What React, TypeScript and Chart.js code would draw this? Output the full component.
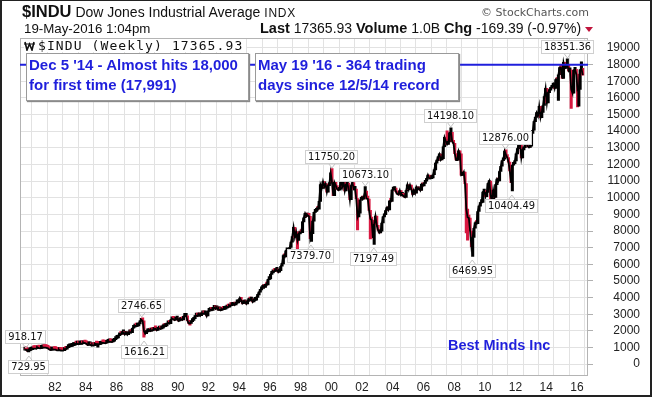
import React, { useEffect, useRef } from "react";
import { Chart, registerables } from "chart.js";

Chart.register(...registerables);

// ---------- DATA ----------
const FIRST_YEAR = 1980;
const DEC_1979_CLOSE = 839;

// Monthly closes (Jan 1980 .. Dec 1989)
const closes1980s = [
  876, 863, 786, 817, 851, 868, 935, 933, 932, 925, 993, 964,
  947, 975, 1004, 998, 992, 977, 952, 882, 850, 853, 889, 875,
  871, 824, 823, 848, 820, 812, 809, 901, 896, 992, 1039, 1047,
  1076, 1113, 1130, 1226, 1200, 1222, 1199, 1216, 1233, 1225, 1276, 1259,
  1220, 1155, 1165, 1171, 1105, 1132, 1115, 1224, 1207, 1207, 1189, 1212,
  1287, 1284, 1267, 1258, 1316, 1336, 1348, 1334, 1329, 1375, 1472, 1547,
  1571, 1709, 1819, 1784, 1877, 1893, 1775, 1898, 1768, 1878, 1914, 1896,
  2158, 2224, 2305, 2286, 2292, 2419, 2572, 2663, 2596, 1994, 1834, 1939,
  1958, 2072, 1988, 2032, 2031, 2142, 2129, 2032, 2113, 2149, 2115, 2169,
  2342, 2258, 2294, 2419, 2480, 2440, 2661, 2737, 2693, 2645, 2706, 2753,
];

const closes1990s = [
  2591, 2627, 2707, 2657, 2877, 2881, 2905, 2614, 2453, 2442, 2560, 2634,
  2736, 2882, 2914, 2888, 3028, 2907, 3025, 3044, 3017, 3069, 2895, 3169,
  3224, 3268, 3236, 3359, 3397, 3319, 3394, 3257, 3272, 3226, 3305, 3301,
  3310, 3371, 3435, 3428, 3527, 3516, 3540, 3651, 3555, 3681, 3684, 3754,
  3978, 3832, 3636, 3682, 3758, 3625, 3765, 3913, 3843, 3908, 3739, 3834,
  3844, 4011, 4158, 4321, 4465, 4556, 4709, 4611, 4789, 4756, 5075, 5117,
  5395, 5486, 5588, 5569, 5643, 5655, 5529, 5616, 5882, 6029, 6522, 6448,
  6813, 6877, 6584, 7009, 7331, 7673, 8223, 7622, 7945, 7442, 7823, 7908,
  7907, 8546, 8800, 9063, 8900, 8952, 8883, 7539, 7843, 8592, 9117, 9181,
  9359, 9307, 9786, 10789, 10560, 10971, 10655, 10829, 10337, 10730, 10878, 11497,
];

const closes2000s = [
  10941, 10128, 10922, 10734, 10522, 10448, 10522, 11215, 10651, 10971, 10415, 10788,
  10887, 10495, 9879, 10735, 10912, 10502, 10523, 9950, 8848, 9075, 9852, 10022,
  9920, 10106, 10404, 9946, 9925, 9243, 8737, 8664, 7592, 8397, 8896, 8342,
  8054, 7891, 7992, 8480, 8850, 8985, 9234, 9416, 9275, 9801, 9782, 10454,
  10488, 10584, 10358, 10226, 10188, 10435, 10140, 10174, 10080, 10027, 10428, 10783,
  10490, 10766, 10504, 10193, 10467, 10275, 10641, 10482, 10569, 10440, 10806, 10718,
  10865, 10993, 11109, 11367, 11168, 11150, 11186, 11381, 11679, 12081, 12222, 12463,
  12622, 12269, 12354, 13063, 13628, 13409, 13212, 13358, 13896, 13930, 13372, 13265,
  12650, 12266, 12263, 12820, 12638, 11350, 11378, 11544, 10851, 9325, 8829, 8776,
  8001, 7063, 7609, 8168, 8500, 8447, 9172, 9496, 9712, 9713, 10345, 10428,
];

const closes2010s = [
  10067, 10325, 10857, 11009, 10137, 9774, 10466, 10015, 10788, 11118, 11006, 11578,
  11892, 12226, 12320, 12811, 12570, 12414, 12143, 11614, 10913, 11955, 12046, 12218,
  12633, 12952, 13212, 13214, 12393, 12880, 13009, 13091, 13437, 13096, 13026, 13104,
  13861, 14054, 14579, 14840, 15116, 14910, 15500, 14810, 15130, 15546, 16086, 16577,
  15699, 16322, 16458, 16581, 16717, 16827, 16563, 17098, 17043, 17391, 17828, 17823,
  17165, 18133, 17776, 17841, 18011, 17620, 17690, 16528, 16285, 17664, 17720, 17425,
  16466, 16517, 17685, 17774, 17366,
];

// Labelled intraweek extremes
const labelDates = [1980.1, 1980.3, 1987.65, 1987.8, 1998.67, 2000.04, 2002.21, 2002.77, 2007.78, 2009.18, 2011.34, 2011.76, 2015.38];
const labelValues = [918.17, 729.95, 2746.65, 1616.21, 7379.7, 11750.2, 10673.1, 7197.49, 14198.1, 6469.95, 12876.0, 10404.49, 18351.36];
const labelKinds = ["high", "low", "high", "low", "low", "high", "high", "low", "high", "low", "high", "low", "high"];

// Other visible intramonth swings
const swingDates = [1990.79, 1997.82, 2001.72, 2002.55, 2007.54, 2008.79, 2008.89, 2010.37, 2010.51, 2014.79, 2015.64, 2016.05, 2016.13, 2016.3];
const swingValues = [2344, 6936, 8062, 7532, 14022, 7882, 7449, 9870, 9614, 15855, 15370, 15451, 15503, 18168];

const RECORD_VALUE = 17991;

const xTickYears = [
  1980, 1981, 1982, 1983, 1984, 1985, 1986, 1987, 1988, 1989, 1990, 1991, 1992,
  1993, 1994, 1995, 1996, 1997, 1998, 1999, 2000, 2001, 2002, 2003, 2004, 2005,
  2006, 2007, 2008, 2009, 2010, 2011, 2012, 2013, 2014, 2015, 2016,
];
const yTickValues = [
  0, 1000, 2000, 3000, 4000, 5000, 6000, 7000, 8000, 9000, 10000, 11000, 12000,
  13000, 14000, 15000, 16000, 17000, 18000, 19000,
];

const X_MIN = 1979.72;
const X_MAX = 2016.72;
const Y_MIN = -700;
const Y_MAX = 19600;

// ---------- STYLE ----------
const UP_COLOR = "#000000";
const DOWN_COLOR = "#d81840";
const GRID = "#e2e2e2";
const BLUE = "#1f1fdc";

function allCloses() {
  return [...closes1980s, ...closes1990s, ...closes2000s, ...closes2010s];
}

function buildBars() {
  const closes = allCloses();
  const bars = closes.map((c, i) => {
    const prev = i === 0 ? DEC_1979_CLOSE : closes[i - 1];
    return {
      x: FIRST_YEAR + (i + 0.5) / 12,
      y: [Math.min(prev, c), Math.max(prev, c)] as [number, number],
      up: c >= prev,
    };
  });
  const dates = [...labelDates, ...swingDates];
  const vals = [...labelValues, ...swingValues];
  dates.forEach((d, k) => {
    const i = Math.floor((d - FIRST_YEAR) * 12);
    if (bars[i]) {
      bars[i].y = [Math.min(bars[i].y[0], vals[k]), Math.max(bars[i].y[1], vals[k])];
    }
  });
  return bars;
}

const framePlugin = {
  id: "frame",
  beforeDatasetsDraw(chart: any) {
    const { ctx, chartArea: a } = chart;
    ctx.save();
    ctx.strokeStyle = "#b4b4b4";
    ctx.lineWidth = 1;
    ctx.strokeRect(Math.round(a.left) + 0.5, Math.round(a.top) + 0.5, Math.round(a.right - a.left) - 1, Math.round(a.bottom - a.top) - 1);
    ctx.restore();
  },
};

const labelPlugin = {
  id: "extremeLabels",
  afterDatasetsDraw(chart: any) {
    const { ctx } = chart;
    const xs = chart.scales.x;
    const ys = chart.scales.y;
    ctx.save();
    ctx.font = '11px "DejaVu Sans Condensed", "DejaVu Sans", sans-serif';
    ctx.textAlign = "center";
    ctx.textBaseline = "middle";
    labelDates.forEach((d, i) => {
      const v = labelValues[i];
      const px = xs.getPixelForValue(d);
      const py = ys.getPixelForValue(v);
      const text = v.toFixed(2);
      const w = Math.round(ctx.measureText(text).width + 6);
      const h = 14;
      const high = labelKinds[i] === "high";
      const cy = high ? py - 12 : py + 15;
      let left = Math.round(px - w / 2);
      if (left < 4) left = 4;
      const top = Math.round(cy - h / 2);
      ctx.strokeStyle = "#c4c4c4";
      ctx.lineWidth = 1;
      ctx.beginPath();
      if (high) {
        ctx.moveTo(px - 3, top + h);
        ctx.lineTo(px, top + h + 4);
        ctx.lineTo(px + 3, top + h);
      } else {
        ctx.moveTo(px - 3, top);
        ctx.lineTo(px, top - 4);
        ctx.lineTo(px + 3, top);
      }
      ctx.stroke();
      ctx.fillStyle = "#ffffff";
      ctx.fillRect(left, top, w, h);
      ctx.strokeStyle = "#cfcfcf";
      ctx.strokeRect(left + 0.5, top + 0.5, w - 1, h - 1);
      ctx.fillStyle = "#111111";
      ctx.fillText(text, left + w / 2, top + h / 2 + 0.5);
    });
    ctx.restore();
  },
};

export default function App() {
  const ref = useRef<HTMLCanvasElement>(null);

  useEffect(() => {
    if (!ref.current) return;
    const bars = buildBars();
    const closes = allCloses();
    Chart.defaults.font.family = '"Liberation Sans", Arial, sans-serif';
    const chart = new Chart(ref.current, {
      type: "bar",
      data: {
        datasets: [
          {
            type: "line",
            data: [
              { x: X_MIN, y: RECORD_VALUE },
              { x: X_MAX, y: RECORD_VALUE },
            ],
            borderColor: BLUE,
            borderWidth: 2,
            pointRadius: 0,
            order: 0,
          } as any,
          {
            type: "line",
            data: closes.map((c, i) => ({ x: FIRST_YEAR + (i + 0.5) / 12, y: c })),
            borderColor: "#000",
            borderWidth: 1.8,
            pointRadius: 0,
            tension: 0,
            order: 1,
          } as any,
          {
            type: "bar",
            data: bars.map((b) => ({ x: b.x, y: b.y })),
            backgroundColor: bars.map((b) => (b.up ? UP_COLOR : DOWN_COLOR)),
            borderWidth: 0,
            barThickness: 2.4,
            minBarLength: 3,
            order: 2,
          } as any,
        ],
      },
      options: {
        animation: false,
        responsive: false,
        events: [],
        layout: { padding: { left: 20, top: 38, right: 12, bottom: 0 } },
        plugins: {
          legend: { display: false },
          tooltip: { enabled: false },
          title: { display: false },
        },
        scales: {
          x: {
            type: "linear",
            min: X_MIN,
            max: X_MAX,
            offset: false,
            afterBuildTicks: (scale: any) => {
              scale.ticks = xTickYears.map((v) => ({ value: v }));
            },
            afterFit: (scale: any) => {
              scale.height = 19;
            },
            ticks: {
              autoSkip: false,
              maxRotation: 0,
              padding: 5,
              color: "#222",
              font: { size: 12 },
              callback: (value: any) => {
                const yr = Math.round(Number(value));
                if (yr % 2 !== 0 || yr < 1982) return "";
                return String(yr % 100).padStart(2, "0");
              },
            },
            grid: { color: GRID, drawTicks: false },
            border: { display: false },
          },
          y: {
            type: "linear",
            position: "right",
            min: Y_MIN,
            max: Y_MAX,
            afterBuildTicks: (scale: any) => {
              scale.ticks = yTickValues.map((v) => ({ value: v }));
            },
            afterFit: (scale: any) => {
              scale.width = 52;
            },
            ticks: {
              crossAlign: "far",
              padding: 14,
              color: "#222",
              font: { size: 12 },
              callback: (value: any) => String(value),
            },
            grid: { color: GRID, tickLength: 5, tickColor: "#b0b0b0" },
            border: { display: false },
          },
        },
      } as any,
      plugins: [framePlugin, labelPlugin],
    });
    return () => chart.destroy();
  }, []);

  const arial = '"Liberation Sans", Arial, sans-serif';
  const boxStyle: React.CSSProperties = {
    position: "absolute",
    top: 53,
    height: 45,
    background: "#fff",
    border: "1px solid #9a9a9a",
    boxShadow: "1px 1px 1px #8a8a8a",
    color: BLUE,
    fontFamily: arial,
    fontWeight: "bold",
    fontSize: 15,
    lineHeight: "20px",
    padding: "1px 0 0 2px",
    whiteSpace: "nowrap",
  };

  return (
    <div
      style={{
        position: "fixed",
        left: 0,
        top: 0,
        width: 652,
        height: 397,
        background: "#fff",
        overflow: "hidden",
      }}
    >
      <canvas
        ref={ref}
        width={652}
        height={397}
        style={{ position: "absolute", left: 0, top: 0, width: 652, height: 397 }}
      />
      {/* outer frame */}
      <div
        style={{
          position: "absolute",
          left: 0,
          top: 0,
          width: 652,
          height: 397,
          boxSizing: "border-box",
          borderTop: "1px solid #222",
          borderLeft: "2px solid #222",
          borderRight: "2px solid #222",
          borderBottom: "2px solid #222",
          pointerEvents: "none",
        }}
      />
      {/* header */}
      <div style={{ position: "absolute", left: 22, top: 3, fontFamily: arial, whiteSpace: "nowrap", color: "#111", lineHeight: "16px" }}>
        <span style={{ fontWeight: "bold", fontSize: 16.5 }}>$INDU</span>
        <span style={{ fontSize: 14 }}> Dow Jones Industrial Average </span>
        <span style={{ fontSize: 12, letterSpacing: 0.8 }}>INDX</span>
      </div>
      <div style={{ position: "absolute", left: 24, top: 22, fontFamily: arial, fontSize: 13.3, lineHeight: "13px", color: "#111", whiteSpace: "nowrap" }}>
        19-May-2016 1:04pm
      </div>
      <div style={{ position: "absolute", left: 260, top: 21, fontFamily: arial, fontSize: 14, lineHeight: "14px", color: "#111", whiteSpace: "nowrap" }}>
        <span style={{ fontWeight: "bold", fontSize: 14.5 }}>Last</span> 17365.93{" "}
        <span style={{ fontWeight: "bold", fontSize: 14.5 }}>Volume</span> 1.0B{" "}
        <span style={{ fontWeight: "bold", fontSize: 14.5 }}>Chg</span> -169.39 (-0.97%){" "}
        <span
          style={{
            display: "inline-block",
            width: 0,
            height: 0,
            borderLeft: "4px solid transparent",
            borderRight: "4px solid transparent",
            borderTop: "5px solid #c0143c",
            verticalAlign: "middle",
          }}
        />
      </div>
      <div style={{ position: "absolute", right: 63, top: 7, fontFamily: '"DejaVu Sans", sans-serif', fontSize: 11, lineHeight: "12px", color: "#555", whiteSpace: "nowrap" }}>
        © StockCharts.com
      </div>
      {/* in-plot legend */}
      <div style={{ position: "absolute", left: 24, top: 39, height: 13, background: "#fff", display: "flex", alignItems: "center", paddingRight: 3 }}>
        <svg width="11" height="10" viewBox="0 0 11 10" style={{ marginRight: 3 }}>
          <path d="M1 1 L3 9 L5.5 3 L8 9 L10 1" stroke="#111" strokeWidth="1.6" fill="none" />
          <path d="M0 3 H11" stroke="#111" strokeWidth="1" />
        </svg>
        <span style={{ fontFamily: '"DejaVu Sans Mono", monospace', fontSize: 13, letterSpacing: 1.1, lineHeight: "13px", color: "#111", whiteSpace: "nowrap" }}>
          $INDU (Weekly) 17365.93
        </span>
      </div>
      {/* annotation boxes */}
      <div style={{ ...boxStyle, left: 26, width: 219 }}>
        Dec 5 '14 - Almost hits 18,000
        <br />
        for first time (17,991)
      </div>
      <div style={{ ...boxStyle, left: 255, width: 200 }}>
        May 19 '16 - 364 trading
        <br />
        days since 12/5/14 record
      </div>
      <div style={{ position: "absolute", left: 448, top: 338, fontFamily: arial, fontWeight: "bold", fontSize: 14.5, lineHeight: "15px", color: BLUE, whiteSpace: "nowrap" }}>
        Best Minds Inc
      </div>
    </div>
  );
}
